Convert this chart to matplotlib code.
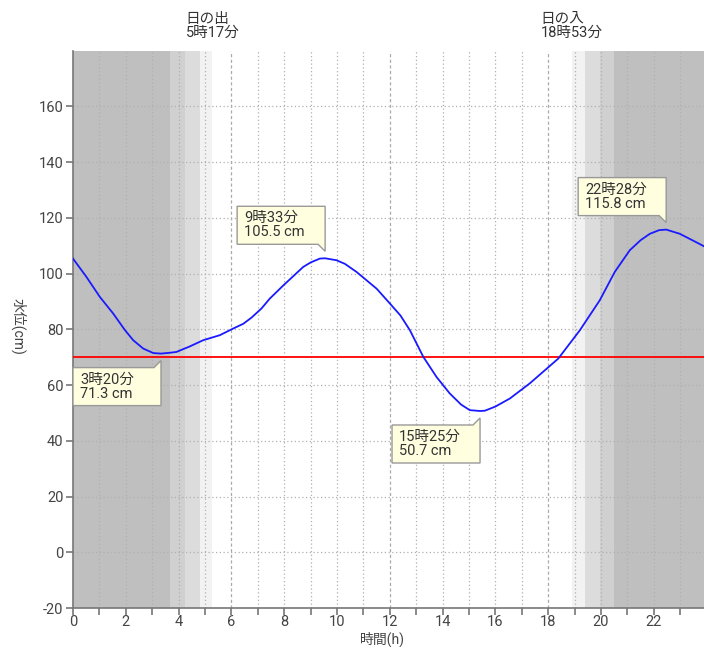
import numpy as np
import matplotlib
matplotlib.use('Agg')
from matplotlib import pyplot as plt
from matplotlib.patches import Polygon

plt.rcParams['font.family'] = ['Roboto', 'Noto Sans CJK JP', 'DejaVu Sans']
plt.rcParams['axes.unicode_minus'] = False

# tide level readings (hour, cm)
hours = [0.0, 0.51, 1.02, 1.52, 1.97, 2.28, 2.66, 3.04, 3.33, 3.67, 3.92, 4.43,
         4.93, 5.56, 6.07, 6.45, 6.76, 7.14, 7.45, 7.97, 8.72, 9.0, 9.35, 9.55,
         9.98, 10.3, 10.74, 11.5, 12.0, 12.4, 12.76, 13.27, 13.77, 14.27, 14.7,
         15.03, 15.42, 15.6, 16.0, 16.55, 17.3, 18.38, 19.2, 19.95, 20.52,
         21.09, 21.5, 21.85, 22.2, 22.47, 22.98, 23.6, 23.9]
level = [105.4, 98.8, 91.6, 85.7, 79.7, 76.1, 73.1, 71.5, 71.3, 71.6, 71.9, 73.9,
         76.1, 77.9, 80.3, 82.0, 84.2, 87.5, 91.0, 95.8, 102.4, 104.0, 105.4, 105.5,
         104.8, 103.5, 100.6, 94.6, 89.3, 85.0, 79.7, 70.1, 62.9, 57.0, 53.0,
         51.0, 50.7, 50.8, 52.3, 55.2, 60.6, 69.5, 79.7, 90.4, 100.6,
         108.4, 112.0, 114.3, 115.6, 115.8, 114.3, 111.3, 109.8]

# extremes: hour, value, label, box below point?
ext_h = [3.333, 9.55, 15.417, 22.467]
ext_v = [71.3, 105.5, 50.7, 115.8]
ext_lbl = ['3時20分\n71.3 cm', '9時33分\n105.5 cm', '15時25分\n50.7 cm', '22時28分\n115.8 cm']
ext_below = [True, False, True, False]

ref_level = 70
sunrise, sunset = 5.283, 18.883
sun_lbl = ['日の出\n5時17分', '日の入\n18時53分']

# twilight bands (start, end, colour)
bands = [(0, 3.69, '#bfbfbf'), (3.69, 4.26, '#d0d0d0'), (4.26, 4.80, '#dcdcdc'),
         (4.80, sunrise, '#f2f2f2'),
         (sunset, 19.39, '#f2f2f2'), (19.39, 19.96, '#dcdcdc'), (19.96, 20.49, '#d0d0d0'),
         (20.49, 24, '#bfbfbf')]

W, H = 704, 647
fig = plt.figure(figsize=(W / 100, H / 100), dpi=100)
ax = fig.add_axes([73 / W, (H - 608) / H, (W - 73) / W, (608 - 50.7) / H])
ax.set_xlim(0, 23.9)
ax.set_ylim(-20, 180)

for a, b, c in bands:
    ax.axvspan(a, b, color=c, lw=0, zorder=0)

for hr in range(1, 24):
    if hr % 6 == 0:
        ax.axvline(hr, color='#aaaaaa', lw=0.9, dashes=(2.5, 2), zorder=1)
    else:
        ax.axvline(hr, color='#b0b0b0', lw=0.9, dashes=(1, 2), zorder=1)
for v in range(0, 180, 20):
    ax.axhline(v, color='#b0b0b0', lw=0.9, dashes=(1, 2), zorder=1)

ax.axhline(ref_level, color='red', lw=1.3, zorder=3)
ax.plot(hours, level, color='#1a1aff', lw=1.3, zorder=4)

for s in ['top', 'right']:
    ax.spines[s].set_visible(False)
for s in ['left', 'bottom']:
    ax.spines[s].set_color('#777777')
    ax.spines[s].set_linewidth(1.2)

ax.set_xticks(range(0, 24, 2))
ax.set_xticks(range(0, 24), minor=True)
ax.set_yticks(range(-20, 180, 20))
ax.tick_params(axis='both', which='both', colors='#777777', labelcolor='#444444',
               labelsize=10.5, length=5, width=1.2, direction='out')
ax.tick_params(axis='x', pad=0)
ax.tick_params(axis='y', pad=2)

fig.text(18 / W, 1 - 326 / H, '水位(cm)', rotation=270, ha='center', va='center',
         fontsize=10, color='#444444')
fig.text(382 / W, 1 - 639 / H, '時間(h)', ha='center', va='center',
         fontsize=10, color='#444444')

for t, lbl in zip([sunrise, sunset], sun_lbl):
    px = ax.transData.transform((t, 0))[0]
    fig.text(px / W, 1 - 26 / H, lbl, ha='center', va='center', multialignment='left',
             fontsize=10.5, color='#333333', linespacing=1.05)

# callouts
bw, bh, gap, notch = 88, 38, 14, 7
for x, v, lbl, below in zip(ext_h, ext_v, ext_lbl, ext_below):
    px, py = ax.transData.transform((x, v))
    right, left = px, px - bw
    if below:
        top = py - gap
        bot = top - bh
        pts = [(left, bot), (right, bot), (right, top + notch), (right - notch, top), (left, top)]
    else:
        bot = py + gap
        top = bot + bh
        pts = [(left, bot), (right - notch, bot), (right, bot - notch), (right, top), (left, top)]
    ty = (top + bot) / 2
    poly = Polygon(pts, closed=True, transform=None, facecolor='#ffffe0',
                   edgecolor='#999999', lw=1.0, zorder=6)
    fig.add_artist(poly)
    fig.text((left + 7) / W, ty / H, lbl, ha='left', va='center', fontsize=10.5,
             color='#333333', linespacing=1.0, zorder=7)

fig.savefig('out.png', dpi=100)
